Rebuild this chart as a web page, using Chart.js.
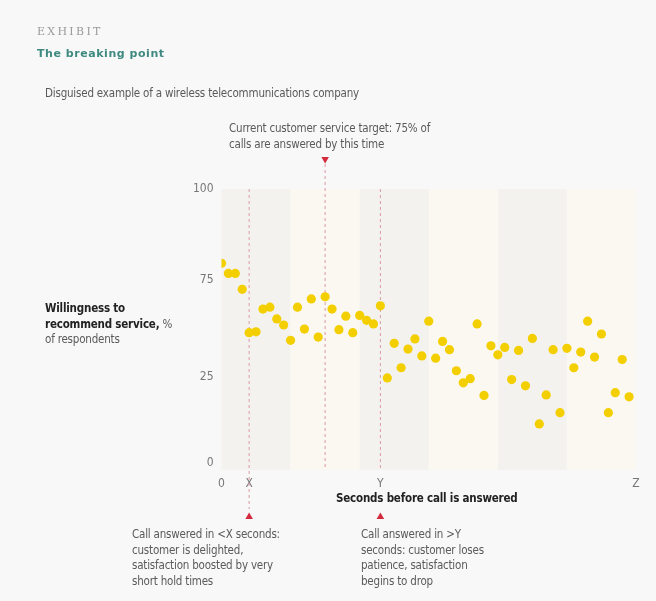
<!DOCTYPE html>
<html>
<head>
<meta charset="utf-8">
<script src="https://cdn.jsdelivr.net/npm/chart.js@4/dist/chart.umd.min.js"></script>
<style>
    body { margin: 0; background: #f8f8f8; font-family: "Liberation Sans Narrow", "DejaVu Sans Condensed", Roboto, sans-serif; }
    #wrap { position: relative; width: 656px; height: 601px; overflow: hidden; }
    #chart { position: absolute; left: 0; top: 0; }
    .txt { position: absolute; color: #5a5a5a; font-size: 11.5px; letter-spacing: -0.2px; line-height: 15.5px; white-space: nowrap; }
    .exhibit { left: 37px; top: 24px; font-family: "DejaVu Serif", serif; font-size: 11px; color: #9a9a9a; letter-spacing: 2.3px; }
    .title { left: 37px; top: 46px; font-family: "DejaVu Sans", sans-serif; font-weight: bold; font-size: 11px; color: #3e8a80; letter-spacing: 0.55px; }
    .bold { color: #222; font-weight: bold; }
</style>
</head>
<body>
<div id="wrap">
    <canvas id="chart" width="656" height="601"></canvas>
    <div class="txt exhibit">EXHIBIT</div>
    <div class="txt title">The breaking point</div>
    <div class="txt" style="left:45px; top:86px;">Disguised example of a wireless telecommunications company</div>
    <div class="txt" style="left:229px; top:121px;">Current customer service target: 75% of<br>calls are answered by this time</div>
    <div class="txt" style="left:45px; top:301px;"><span class="bold">Willingness to<br>recommend service,</span> %<br>of respondents</div>
    <div class="txt bold" style="left:336px; top:491px;">Seconds before call is answered</div>
    <div class="txt" style="left:132px; top:527px;">Call answered in &lt;X seconds:<br>customer is delighted,<br>satisfaction boosted by very<br>short hold times</div>
    <div class="txt" style="left:361px; top:527px;">Call answered in &gt;Y<br>seconds: customer loses<br>patience, satisfaction<br>begins to drop</div>
</div>
<script>
// seconds before the call is answered (schematic units, 0..Z)
const seconds = [
    0, 1, 2, 3, 4, 5, 6, 7, 8, 9,
    10, 11, 12, 13, 14, 15, 16, 17, 18, 19,
    20, 21, 22, 23, 24, 25, 26, 27, 28, 29,
    30, 31, 32, 33, 34, 35, 36, 37, 38, 39,
    40, 41, 42, 43, 44, 45, 46, 47, 48, 49,
    50, 51, 52, 53, 54, 55, 56, 57, 58, 59
];
// willingness to recommend, % of respondents
const willingness = [
    72.9, 69.2, 69.2, 63.4, 47.6, 47.9, 56.2, 56.9, 52.6, 50.4,
    44.8, 56.9, 48.9, 59.9, 46.0, 60.7, 56.2, 48.7, 53.6, 47.6,
    53.9, 52.1, 50.8, 57.4, 31.1, 43.7, 34.8, 41.6, 45.3, 39.1,
    51.8, 38.3, 44.4, 41.4, 33.7, 29.3, 30.8, 50.8, 24.7, 42.8,
    39.5, 42.2, 30.5, 41.1, 28.2, 45.5, 14.3, 24.9, 41.4, 18.4,
    41.9, 34.8, 40.5, 51.8, 38.7, 47.1, 18.4, 25.7, 37.8, 24.2
];

const xTickValues = [0, 4, 23, 60];
const xTickLabels = ['0', 'X', 'Y', 'Z'];
const yTickValues = [0, 31.4, 66.8, 100];
const yTickLabels = ['0', '25', '75', '100'];

const markX = 4;       // <X seconds
const markTarget = 15; // 75% target
const markY = 23;      // >Y seconds
const bandEdges = [0, 10, 20, 30, 40, 50, 60];

const tickFont = { family: '"Liberation Sans Narrow", "DejaVu Sans Condensed", Roboto, sans-serif', size: 12 };

function triangle(ctx, x, y, up) {
    ctx.beginPath();
    if (up) {
        ctx.moveTo(x, y - 3.5);
        ctx.lineTo(x + 3.8, y + 3);
        ctx.lineTo(x - 3.8, y + 3);
    } else {
        ctx.moveTo(x, y + 3.5);
        ctx.lineTo(x + 3.8, y - 3);
        ctx.lineTo(x - 3.8, y - 3);
    }
    ctx.closePath();
    ctx.fill();
}

const backdrop = {
    id: 'backdrop',
    beforeDatasetsDraw(chart) {
        const { ctx, chartArea: a, scales: { x } } = chart;
        ctx.save();
        // vertical bands
        for (let i = 0; i < bandEdges.length - 1; i++) {
            const x0 = x.getPixelForValue(bandEdges[i]);
            const x1 = x.getPixelForValue(bandEdges[i + 1]);
            ctx.fillStyle = i % 2 === 0 ? '#f3f2ee' : '#faf8f1';
            ctx.fillRect(x0, a.top, x1 - x0, a.bottom - a.top);
        }
        // dashed markers
        ctx.strokeStyle = '#dc9aa4';
        ctx.lineWidth = 1;
        ctx.setLineDash([3, 3]);
        const px = x.getPixelForValue(markX);
        const pt = x.getPixelForValue(markTarget);
        const py = x.getPixelForValue(markY);
        ctx.beginPath();
        ctx.moveTo(px, a.top); ctx.lineTo(px, 509);
        ctx.moveTo(pt, 164); ctx.lineTo(pt, a.bottom);
        ctx.moveTo(py, a.top); ctx.lineTo(py, a.bottom);
        ctx.stroke();
        ctx.setLineDash([]);
        ctx.fillStyle = '#d42a3d';
        triangle(ctx, pt, 160, false);
        triangle(ctx, px, 516, true);
        triangle(ctx, py, 516, true);
        ctx.restore();
    }
};

new Chart(document.getElementById('chart'), {
    type: 'scatter',
    data: {
        datasets: [{
            data: seconds.map((s, i) => ({ x: s, y: willingness[i] })),
            backgroundColor: '#f4cf00',
            borderWidth: 0,
            pointRadius: 4.6
        }]
    },
    options: {
        responsive: false,
        animation: false,
        layout: { padding: { top: 189, right: 20, left: 0, bottom: 0 } },
        plugins: { legend: { display: false }, tooltip: { enabled: false } },
        scales: {
            x: {
                type: 'linear',
                min: 0,
                max: 60,
                afterBuildTicks: s => { s.ticks = xTickValues.map(v => ({ value: v })); },
                afterFit: s => { s.height = 131; },
                grid: { display: false, drawTicks: false },
                border: { display: false },
                ticks: {
                    autoSkip: false,
                    maxRotation: 0,
                    padding: 7,
                    color: '#777',
                    font: tickFont,
                    callback: (v, i) => xTickLabels[i]
                }
            },
            y: {
                type: 'linear',
                min: -2.5,
                max: 100,
                afterBuildTicks: s => { s.ticks = yTickValues.map(v => ({ value: v })); },
                afterFit: s => { s.width = 221.5; },
                grid: { display: false, drawTicks: false },
                border: { display: false },
                ticks: {
                    autoSkip: false,
                    padding: 8,
                    color: '#777',
                    font: tickFont,
                    callback: (v, i) => yTickLabels[i]
                }
            }
        }
    },
    plugins: [backdrop]
});
</script>
</body>
</html>
